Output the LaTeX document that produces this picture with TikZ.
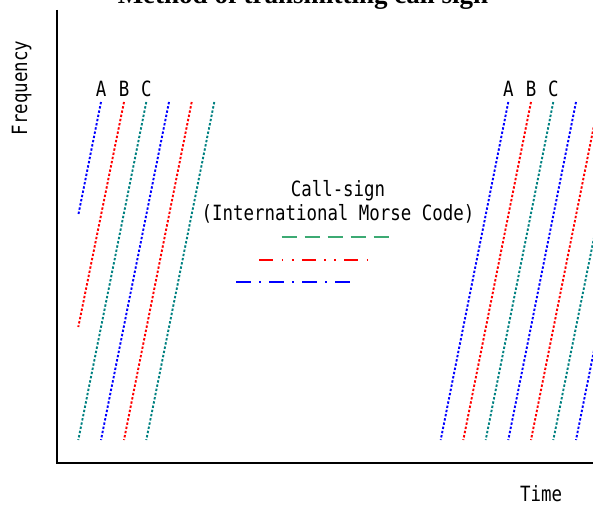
\documentclass[tikz,border=0pt]{standalone}
\usepackage{fontspec}
\newfontfamily\gothic[FakeStretch=0.83]{DejaVu Sans Mono}
\newfontfamily\titlefont{Liberation Serif}
\definecolor{sigblue}{RGB}{0,0,255}
\definecolor{sigred}{RGB}{255,0,0}
\definecolor{sigteal}{RGB}{0,128,128}
\definecolor{siggreen}{RGB}{60,170,115}
\begin{document}
\begin{tikzpicture}[x=1pt,y=-1pt,
  lbl/.style={font=\gothic\fontsize{21}{24}\selectfont, inner sep=0pt, anchor=base},
  axisline/.style={line width=2pt, black},
  sweep/.style={line width=1.9pt, dash pattern=on 2.4pt off 1.9pt},
  bsweep/.style={sweep, sigblue},
  rsweep/.style={sweep, sigred},
  tsweep/.style={sweep, sigteal},
  morse/.style={line width=1.9pt}]
\useasboundingbox (0,0) rectangle (593,505);
% title (cut at top, as in the reference)
\node[font=\titlefont\bfseries\fontsize{27}{30}\selectfont, inner sep=0pt, anchor=base] (title) at (303,3.5) {Method of transmitting call sign};
% axes
\coordinate (ytop) at (57,10);
\coordinate (orig) at (57,463);
\coordinate (xend) at (594,463);
\draw[axisline] (ytop) -- (orig) -- (xend);
\node[lbl, rotate=90] (freq) at (27,88) {Frequency};
\node[lbl] (time) at (541,501) {Time};
% left sweep group
\draw[bsweep] (101,102) -- (78.3,215);
\draw[rsweep] (124,102) -- (78.3,327);
\draw[tsweep] (146.3,102) -- (78.3,440);
\draw[bsweep] (169,102) -- (101,440);
\draw[rsweep] (191.7,102) -- (124,440);
\draw[tsweep] (214.3,102) -- (146.3,440);
\node[lbl] (la) at (101,96.5) {A};
\node[lbl] (lb) at (124,96.5) {B};
\node[lbl] (lc) at (146.3,96.5) {C};
% right sweep group
\draw[bsweep] (508.3,102) -- (440.7,440);
\draw[rsweep] (531,102) -- (463.3,440);
\draw[tsweep] (553.3,102) -- (485.7,440);
\draw[bsweep] (576,102) -- (508.3,440);
\draw[rsweep] (598.7,102) -- (531,440);
\draw[tsweep] (621.3,102) -- (553.3,440);
\draw[bsweep] (644,102) -- (576,440);
\node[lbl] (ra) at (508.3,96.5) {A};
\node[lbl] (rb) at (531,96.5) {B};
\node[lbl] (rc) at (553.3,96.5) {C};
% call sign legend
\node[lbl] (cs1) at (338,196) {Call-sign};
\node[lbl] (cs2) at (338,220) {(International Morse Code)};
\draw[morse, siggreen, dash pattern=on 15pt off 8pt] (281.7,237.3) -- (388.7,237.3);
\draw[morse, sigred, dash pattern=on 14pt off 8.5pt on 1.6pt off 8.5pt on 1.6pt off 8.3pt] (259.3,259.7) -- (368.4,259.7);
\draw[morse, sigblue, dash pattern=on 14.7pt off 8.3pt on 1.6pt off 8.4pt] (236,282.3) -- (349.7,282.3);
\end{tikzpicture}
\end{document}
